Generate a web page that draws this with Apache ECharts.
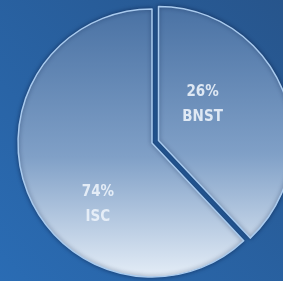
<!DOCTYPE html>
<html>
<head>
<meta charset="utf-8">
<script src="https://cdn.jsdelivr.net/npm/echarts@6/dist/echarts.min.js"></script>
<style>
  html, body { margin: 0; padding: 0; }
  #chart { width: 283px; height: 281px; }
</style>
</head>
<body>
<div id="chart"></div>
<script>
const categories = ['BNST', 'ISC']
// printed percentages
const shares = [26, 74]
// slice sizes as drawn in the picture (the BNST wedge is about 136 degrees)
const sliceValues = [38, 62]

// nudge of each label from its default inside spot
const labelShift = [[-21, -10], [11, 36]]

const chart = echarts.init(document.getElementById('chart'))
chart.setOption({
  animation: false,
  backgroundColor: new echarts.graphic.LinearGradient(1, 0, 0, 1, [
    { offset: 0, color: '#27558c' },
    { offset: 1, color: '#2a6cb4' }
  ]),
  series: [{
    type: 'pie',
    center: [152, 143],
    radius: [0, 134],
    startAngle: 90,
    clockwise: true,
    selectedMode: 'single',
    selectedOffset: 7,
    label: {
      position: 'inside',
      formatter: p => shares[p.dataIndex] + '%\n' + p.name,
      color: 'rgba(235,242,250,0.9)',
      fontFamily: 'Liberation Sans Narrow, DejaVu Sans Condensed, sans-serif',
      fontWeight: 'bold',
      fontSize: 15,
      lineHeight: 25
    },
    labelLayout: params => ({
      dx: labelShift[params.dataIndex][0],
      dy: labelShift[params.dataIndex][1]
    }),
    labelLine: { show: false },
    itemStyle: {
      color: new echarts.graphic.LinearGradient(0, 10, 0, 277, [
        { offset: 0, color: '#4a72a4' },
        { offset: 0.55, color: '#80a0c7' },
        { offset: 1, color: '#e4edf7' }
      ], true),
      borderColor: '#a9cbef',
      borderWidth: 1.5,
      shadowColor: 'rgba(10,30,70,0.6)',
      shadowBlur: 4
    },
    emphasis: { disabled: true },
    data: categories.map((name, i) => ({
      name: name,
      value: sliceValues[i],
      selected: i === 0
    }))
  }]
})
</script>
</body>
</html>
